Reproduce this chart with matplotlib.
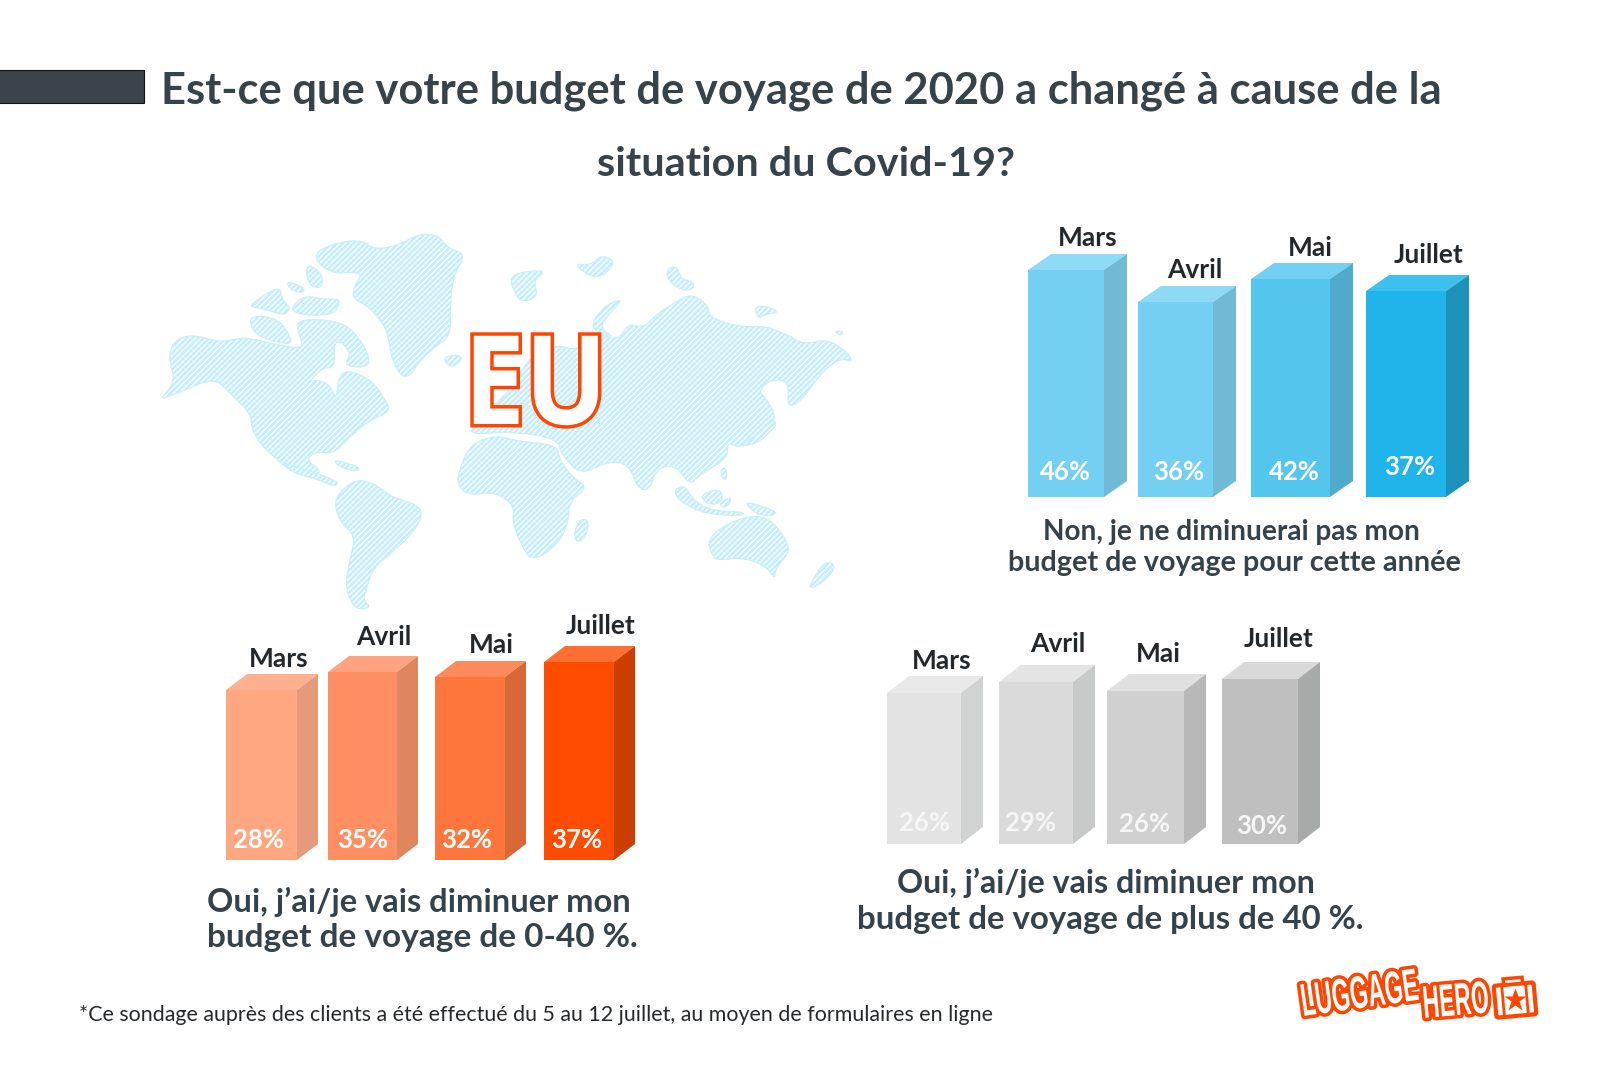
import numpy as np
import matplotlib
matplotlib.use("Agg")
import matplotlib.pyplot as plt
import matplotlib.patheffects as pe
from matplotlib.patches import Polygon, Rectangle, FancyBboxPatch
from matplotlib.transforms import Affine2D

plt.rcParams['font.family'] = ['Lato', 'DejaVu Sans']
plt.rcParams['hatch.linewidth'] = 0.8

months = ["Mars", "Avril", "Mai", "Juillet"]

# percentages printed on the bars
blue_values = [46, 36, 42, 37]
orange_values = [28, 35, 32, 37]
grey_values = [26, 29, 26, 30]

# the drawn bars are not to scale with the printed numbers, heights are read off the picture
blue_heights = [227, 195, 218, 206]
orange_heights = [170, 188, 183, 198]
grey_heights = [151, 162, 153, 165]

title_lines = ["Est-ce que votre budget de voyage de 2020 a changé à cause de la",
               "situation du Covid-19?"]
blue_caption = ["Non, je ne diminuerai pas mon", "budget de voyage pour cette année"]
orange_caption = ["Oui, j’ai/je vais diminuer mon", "budget de voyage de 0-40 %."]
grey_caption = ["Oui, j’ai/je vais diminuer mon", "budget de voyage de plus de 40 %."]
footnote = "*Ce sondage auprès des clients a été effectué du 5 au 12 juillet, au moyen de formulaires en ligne"

# hand traced outlines of the decorative map, in crop units
map_shapes = [
    [(42,565),(60,555),(100,535),(120,520),(160,505),(190,545),(235,610),(235,650),(255,700),(290,745),(325,785),(360,795),(385,780),(350,745),(370,720),(410,725),(440,680),(480,630),(530,600),(515,560),(490,510),(445,478),(420,490),(415,565),(400,520),(375,505),(355,515),(385,470),(412,470),(408,400),(425,390),(445,430),(430,465),(485,470),(480,420),(450,360),(415,330),(340,325),(330,350),(345,405),(330,410),(300,405),(240,385),(215,380),(170,395),(110,370),(70,390),(60,445),(75,510)],
    [(232,285),(260,255),(295,228),(300,270),(318,290),(305,315),(275,300),(240,290)],
    [(232,320),(265,315),(300,335),(325,400),(290,395),(250,375),(235,350)],
    [(320,290),(345,255),(385,265),(420,265),(420,280),(410,310),(360,315),(325,305)],
    [(310,210),(350,235),(340,248),(315,235)],
    [(355,160),(385,190),(385,230),(362,232),(350,190)],
    [(370,125),(420,95),(470,90),(495,118),(545,105),(590,70),(630,75),(650,115),(688,130),(660,200),(655,290),(655,375),(625,405),(590,450),(570,495),(550,495),(530,440),(525,385),(515,340),(480,285),(450,265),(450,230),(470,190),(440,185),(410,190),(375,160)],
    [(638,440),(670,430),(682,445),(655,472)],
    [(780,200),(810,183),(858,180),(830,210),(840,260),(805,275),(790,245)],
    [(915,160),(950,165),(975,133),(1005,155),(975,200),(945,195)],
    [(1115,170),(1135,170),(1140,205),(1170,215),(1165,240),(1135,235),(1110,200)],
    [(950,340),(985,280),(1020,265),(990,310),(970,350),(1000,380),(970,370)],
    [(700,640),(700,670),(780,660),(880,680),(890,730),(930,790),(985,750),(1030,755),(1050,830),(1075,835),(1090,770),(1130,760),(1160,820),(1180,790),(1240,740),(1240,690),(1265,710),(1310,680),(1345,620),(1320,560),(1305,540),(1330,505),(1370,510),(1365,590),(1395,570),(1440,480),(1480,440),(1505,455),(1490,420),(1450,385),(1400,400),(1370,375),(1320,345),(1270,350),(1200,320),(1200,285),(1165,250),(1135,270),(1090,310),(1065,350),(1030,340),(1015,375),(1000,385),(965,370),(920,420),(880,400),(820,440),(790,520),(750,580)],
    [(670,790),(695,700),(750,670),(800,690),(880,700),(885,745),(915,800),(945,825),(905,870),(905,930),(880,1000),(830,1045),(810,1015),(785,930),(790,880),(750,840),(690,850),(672,820)],
    [(410,880),(420,840),(460,800),(500,820),(530,855),(590,880),(595,920),(570,970),(540,1010),(490,1070),(480,1120),(470,1160),(488,1185),(455,1192),(433,1130),(440,1060),(455,970),(425,935)],
    [(300,750),(335,770),(385,790),(420,812),(410,825),(370,800),(325,785)],
    [(408,745),(440,755),(465,770),(455,780),(420,765)],
    [(925,925),(945,920),(945,960),(925,995),(915,970)],
    [(1198,985),(1230,940),(1290,910),(1330,920),(1365,985),(1370,1020),(1340,1070),(1340,1100),(1320,1060),(1270,1035),(1215,1045),(1205,1020)],
    [(1445,1045),(1470,1060),(1445,1105),(1415,1130),(1415,1110)],
    [(1125,835),(1150,820),(1165,860),(1200,895),(1275,900),(1270,912),(1190,905),(1140,870)],
    [(1180,850),(1225,828),(1230,870),(1200,880)],
    [(1225,870),(1250,855),(1240,885),(1225,885)],
    [(1225,770),(1238,770),(1238,805),(1228,800)],
    [(1272,870),(1310,880),(1350,905),(1310,915)],
    [(1265,705),(1300,670),(1335,625),(1345,640),(1305,695)],
    [(1295,290),(1320,285),(1350,305),(1320,310),(1305,325)],
    [(1465,360),(1485,362),(1478,375)],
]


class Squeezed(pe.AbstractPathEffect):
    # narrows a text along its baseline, no condensed font is installed
    def __init__(self, sx, stroke_width, stroke_color, join='round'):
        super().__init__()
        self.sx = sx
        self.stroke_width = stroke_width
        self.stroke_color = stroke_color
        self.join = join

    def draw_path(self, renderer, gc, tpath, affine, rgbFace=None):
        squeezed = Affine2D().scale(self.sx, 1) + affine
        gc0 = renderer.new_gc()
        gc0.copy_properties(gc)
        gc0.set_linewidth(self.stroke_width)
        gc0.set_foreground(self.stroke_color)
        gc0.set_joinstyle(self.join)
        renderer.draw_path(gc0, tpath, squeezed, rgbFace)
        gc0.restore()
        renderer.draw_path(gc, tpath, squeezed, rgbFace)


def smooth(points, rounds=2):
    # corner cutting, so the hand traced shapes are not so angular
    pts = np.array(points, dtype=float)
    for _ in range(rounds):
        nxt = np.roll(pts, -1, axis=0)
        pts = np.column_stack([0.75 * pts + 0.25 * nxt, 0.25 * pts + 0.75 * nxt]).reshape(-1, 2)
    return pts


def draw_bars(fig, heights, values, lefts, widths, base, depth, colors, label_pos, pct_pos, pct_color='white'):
    # full figure axes in pixels, zero of y sits on the bar baseline
    ax = fig.add_axes([0, 0, 1, 1], facecolor='none')
    ax.set_xlim(0, 1600)
    ax.set_ylim(base - 1067, base)
    ax.axis('off')
    dx, dy = depth
    front, top, side = colors
    ax.bar(lefts, heights, width=widths, bottom=0, align='edge', color=front, linewidth=0)
    for x, w, h, t, s in zip(lefts, widths, heights, top, side):
        ax.add_patch(Polygon([(x, h), (x + w, h), (x + w + dx, h + dy), (x + dx, h + dy)], facecolor=t, lw=0))
        ax.add_patch(Polygon([(x + w, 0), (x + w + dx, dy), (x + w + dx, h + dy), (x + w, h)], facecolor=s, lw=0))
    for name, pos in zip(months, label_pos):
        ax.text(pos[0], base - pos[1] - 2, name, ha='center', va='center', fontsize=19, fontweight='bold', color='#23282c')
    for v, pos in zip(values, pct_pos):
        ax.text(pos[0], base - pos[1] - 2, "%d%%" % v, ha='center', va='center', fontsize=18.5, fontweight='bold', color=pct_color)


fig = plt.figure(figsize=(16, 10.67), dpi=100, facecolor='white')

bg = fig.add_axes([0, 0, 1, 1], facecolor='none')
bg.set_xlim(0, 1600)
bg.set_ylim(1067, 0)
bg.axis('off')

# map
for shape in map_shapes:
    pts = smooth(shape) / np.array([2.11, 2.98]) + np.array([140, 210])
    bg.add_patch(Polygon(pts, facecolor='#c8eefb', edgecolor='white', hatch='//////', lw=0))
    bg.add_patch(Polygon(pts, facecolor='none', edgecolor='#c8eefb', lw=0.8))

bg.text(464, 424, "EU", ha='left', va='baseline', fontsize=89, fontweight='bold', family='Open Sans', color='white',
        path_effects=[Squeezed(0.88, 5, '#ff4500', join='miter')])

# title
bg.add_patch(Rectangle((-2, 70), 146, 33, facecolor='#3b444b', edgecolor='#111111', lw=0.8))
bg.text(161, 91, title_lines[0], ha='left', va='center', fontsize=31.3, fontweight='bold', color='#36434b')
bg.text(806, 164, title_lines[1], ha='center', va='center', fontsize=29.8, fontweight='bold', color='#36434b')

# bar groups
draw_bars(fig, blue_heights, blue_values, [1028, 1138, 1251, 1366], [76, 75, 79, 80], 497, (23, 16),
          (['#73d0f2', '#73d0f2', '#54c6ed', '#1fb5ea'],
           ['#8fdbf5', '#8edaf5', '#72d0f2', '#3dc0ee'],
           ['#70bad6', '#71bad6', '#4faacc', '#1b91bb']),
          [(1088, 236), (1195, 268), (1310, 246), (1429, 253)],
          [(1065, 470), (1179, 470), (1294, 470), (1410, 465)])
draw_bars(fig, orange_heights, orange_values, [226, 328, 435, 544], [71, 69, 70, 70], 860, (21, 16),
          (['#ffa781', '#ff8e62', '#ff763d', '#ff4c00'],
           ['#ffb08e', '#ffa27f', '#ff8a5c', '#ff6f33'],
           ['#e59a7c', '#df865f', '#d96838', '#cc3e00']),
          [(279, 657), (384, 635), (491, 643), (601, 624)],
          [(258, 838), (363, 838), (467, 838), (577, 838)])
draw_bars(fig, grey_heights, grey_values, [887, 999, 1107, 1222], [74, 74, 77, 76], 844, (22, 17),
          (['#e3e3e3', '#dadada', '#d0d0d0', '#bfbfbf'],
           ['#e9e9e9', '#e4e4e4', '#e0e0e0', '#d9d9d9'],
           ['#d1d2d2', '#c8caca', '#b8b8b8', '#a8a9a9']),
          [(942, 659), (1058, 642), (1158, 652), (1279, 637)],
          [(925, 821), (1031, 821), (1145, 822), (1262, 824)], pct_color='#f6f6f6')

# captions
cap_color = '#34424b'
bg.text(1231, 532, blue_caption[0], ha='center', va='center', fontsize=20.2, fontweight='bold', color=cap_color)
bg.text(1234, 563, blue_caption[1], ha='center', va='center', fontsize=20.7, fontweight='bold', color=cap_color)
bg.text(207, 902, orange_caption[0], ha='left', va='center', fontsize=23.5, fontweight='bold', color=cap_color)
bg.text(207, 938, orange_caption[1], ha='left', va='center', fontsize=24, fontweight='bold', color=cap_color)
bg.text(1106, 883, grey_caption[0], ha='center', va='center', fontsize=23.2, fontweight='bold', color=cap_color)
bg.text(1110, 919, grey_caption[1], ha='center', va='center', fontsize=23.8, fontweight='bold', color=cap_color)

bg.text(79, 1015, footnote, ha='left', va='center', fontsize=15.4, color='#26292b')

# logo
bg.text(1303, 1016, "LUGGAGE", ha='left', va='baseline', rotation=8, rotation_mode='anchor', fontsize=33, fontweight='bold',
        family='Liberation Sans', color='white', path_effects=[Squeezed(0.51, 5, '#ff4500')])
bg.text(1424, 1018, "HERO", ha='left', va='baseline', rotation=5, rotation_mode='anchor', fontsize=33, fontweight='bold',
        family='Liberation Sans', color='white', path_effects=[Squeezed(0.5, 5, '#ff4500')])
case_rot = Affine2D().rotate_deg_around(1515, 1000, -5) + bg.transData
bg.add_patch(FancyBboxPatch((1495, 984), 40, 32, boxstyle='round,pad=0,rounding_size=2', facecolor='white',
                            edgecolor='#ff4500', lw=3, transform=case_rot))
bg.add_patch(Rectangle((1505, 978), 19, 6, facecolor='white', edgecolor='#ff4500', lw=2.5, transform=case_rot))
bg.plot([1515], [1000], marker='*', markersize=17, color='#ff4500', mec='none')
bg.plot([1503, 1503], [986, 1016], color='#ff4500', lw=2, transform=case_rot)
bg.plot([1527, 1527], [984, 1014], color='#ff4500', lw=2, transform=case_rot)

fig.savefig('out.png', dpi=100)
